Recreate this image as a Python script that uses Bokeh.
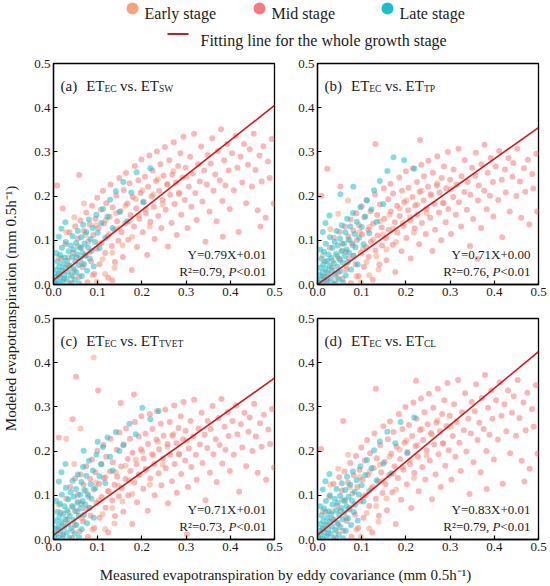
import math
from bokeh.plotting import figure
from bokeh.layouts import column, row
from bokeh.models import Range1d, FixedTicker, PrintfTickFormatter
from bokeh.core.properties import value
from bokeh.embed import file_html
from bokeh.resources import INLINE

# ---------------- data ----------------
stage_names = ["Early stage", "Mid stage", "Late stage"]
stage_colors = ["#F6A37B", "#F47B80", "#1BBFCB"]
fit_label = "Fitting line for the whole growth stage"
fit_color = "#D7161B"
x_title = "Measured evapotranspiration by eddy covariance (mm 0.5h\u207b\u00b9)"
y_title = "Modeled evapotranspiration (mm 0.5h\u207b\u00b9)"
panel_tags = ["(a)", "(b)", "(c)", "(d)"]
obs_sub = "EC"
model_subs = ["SW", "TP", "TVET", "CL"]
slopes = [0.79, 0.71, 0.71, 0.83]
intercepts = [0.01, 0.00, 0.01, 0.01]
r2_values = [0.79, 0.76, 0.73, 0.79]
p_limit = "<0.01"
axis_ticks = [0.0, 0.1, 0.2, 0.3, 0.4, 0.5]

# (x, y) points, per growth stage
early_a = [(0.021,0.032),(0.034,0.061),(0.043,0.018),(0.056,0.087),(0.065,0.047),(0.073,0.112),(0.081,0.073),(0.088,0.021),
           (0.096,0.134),(0.103,0.091),(0.111,0.057),(0.118,0.146),(0.126,0.114),(0.133,0.072),(0.141,0.161),(0.148,0.127),
           (0.156,0.089),(0.163,0.178),(0.171,0.142),(0.178,0.108),(0.186,0.193),(0.193,0.156),(0.201,0.213),(0.209,0.171),
           (0.218,0.132),(0.226,0.204),(0.236,0.238),(0.247,0.181),(0.258,0.226),(0.271,0.257),(0.284,0.208),(0.302,0.243),
           (0.012,0.061),(0.029,0.118),(0.047,0.152),(0.069,0.183),(0.098,0.006),(0.117,0.024),(0.138,0.038)]
mid_a = [(0.012,0.021),(0.018,0.058),(0.024,0.012),(0.027,0.091),(0.033,0.043),(0.036,0.118),(0.041,0.004),(0.044,0.072),(0.047,0.031),(0.049,0.132),
         (0.052,0.061),(0.055,0.104),(0.058,0.017),(0.061,0.145),(0.063,0.083),(0.066,0.039),(0.069,0.121),(0.072,0.067),(0.074,0.163),(0.077,0.005),
         (0.079,0.098),(0.082,0.136),(0.085,0.052),(0.087,0.178),(0.09,0.112),(0.092,0.024),(0.095,0.149),(0.097,0.081),(0.099,0.196),
         (0.102,0.127),(0.104,0.046),(0.107,0.169),(0.109,0.094),(0.112,0.212),(0.114,0.138),(0.117,0.071),(0.119,0.184),(0.122,0.109),(0.124,0.015),
         (0.127,0.153),(0.129,0.226),(0.132,0.087),(0.134,0.174),(0.137,0.124),(0.139,0.051),(0.142,0.201),(0.144,0.143),(0.147,0.099),(0.149,0.241),
         (0.152,0.166),(0.154,0.118),(0.157,0.062),(0.159,0.214),(0.162,0.138),(0.164,0.252),(0.167,0.183),(0.169,0.101),(0.172,0.229),(0.174,0.157),
         (0.177,0.033),(0.179,0.198),(0.182,0.131),(0.184,0.268),(0.187,0.172),(0.189,0.085),(0.192,0.236),(0.194,0.149),(0.197,0.207),(0.199,0.283),
         (0.202,0.118),(0.204,0.187),(0.207,0.244),(0.209,0.161),(0.212,0.067),(0.214,0.221),(0.217,0.292),(0.219,0.142),(0.222,0.199),(0.224,0.258),
         (0.227,0.176),(0.229,0.103),(0.232,0.234),(0.234,0.301),(0.237,0.155),(0.239,0.212),(0.242,0.272),(0.244,0.128),(0.247,0.191),(0.249,0.246),
         (0.252,0.311),(0.254,0.169),(0.257,0.227),(0.259,0.086),(0.262,0.281),(0.264,0.203),(0.267,0.139),(0.269,0.249),(0.272,0.322),(0.274,0.182),
         (0.277,0.231),(0.279,0.112),(0.282,0.268),(0.284,0.205),(0.287,0.297),(0.289,0.158),(0.292,0.242),(0.294,0.334),(0.297,0.191),(0.299,0.264),
         (0.303,0.128),(0.306,0.221),(0.309,0.289),(0.312,0.176),(0.315,0.251),(0.318,0.341),(0.321,0.207),(0.324,0.146),(0.327,0.272),(0.331,0.233),
         (0.334,0.312),(0.337,0.188),(0.341,0.258),(0.344,0.097),(0.347,0.226),(0.349,0.293),
         (0.353,0.165),(0.356,0.274),(0.359,0.331),(0.362,0.212),(0.366,0.249),(0.369,0.143),(0.372,0.302),(0.376,0.236),(0.379,0.351),(0.382,0.189),
         (0.386,0.281),(0.389,0.224),(0.393,0.318),(0.396,0.258),(0.399,0.171),
         (0.404,0.297),(0.408,0.213),(0.412,0.336),(0.416,0.264),(0.419,0.119),(0.423,0.289),(0.427,0.231),(0.431,0.318),(0.436,0.184),(0.44,0.271),
         (0.444,0.306),(0.449,0.222),(0.453,0.341),(0.457,0.259),(0.462,0.168),(0.466,0.292),(0.471,0.233),(0.475,0.313),(0.48,0.151),(0.485,0.278),
         (0.489,0.241),(0.494,0.329),(0.498,0.183),
         (0.008,0.224),(0.021,0.172),(0.058,0.248),(0.133,0.009),(0.383,0.108),(0.468,0.131)]
late_a = [(0.002,0.004),(0.004,0.018),(0.006,0.033),(0.007,0.009),(0.009,0.052),(0.011,0.024),(0.012,0.002),(0.013,0.041),(0.015,0.067),(0.016,0.015),
          (0.018,0.031),(0.019,0.083),(0.021,0.006),(0.022,0.047),(0.024,0.022),(0.025,0.061),(0.027,0.038),(0.028,0.096),(0.03,0.013),(0.031,0.054),
          (0.033,0.029),(0.034,0.075),(0.036,0.002),(0.037,0.043),(0.039,0.088),(0.04,0.021),(0.042,0.062),(0.043,0.109),(0.045,0.036),(0.046,0.079),
          (0.048,0.011),(0.049,0.052),(0.051,0.094),(0.052,0.027),(0.054,0.068),(0.055,0.121),(0.057,0.044),(0.058,0.003),(0.06,0.083),(0.061,0.058),
          (0.063,0.107),(0.064,0.019),(0.066,0.071),(0.067,0.135),(0.069,0.046),(0.07,0.092),(0.072,0.065),(0.074,0.118),(0.076,0.031),(0.078,0.084),
          (0.08,0.147),(0.082,0.059),(0.084,0.103),(0.086,0.076),(0.089,0.128),(0.091,0.041),(0.094,0.096),(0.097,0.158),(0.1,0.117),(0.104,0.082),
          (0.108,0.139),(0.112,0.171),(0.117,0.105),(0.122,0.153),(0.128,0.192),(0.134,0.128),(0.141,0.211),(0.149,0.164),(0.158,0.232),(0.167,0.143),
          (0.176,0.208),(0.188,0.254),(0.203,0.186),(0.219,0.263),(0.012,0.108),(0.018,0.126),(0.006,0.071),(0.027,0.141)]

early_b = [(0.021,0.028),(0.034,0.054),(0.043,0.016),(0.056,0.077),(0.065,0.042),(0.073,0.1),(0.081,0.065),(0.088,0.018),
           (0.096,0.119),(0.103,0.081),(0.111,0.051),(0.118,0.13),(0.126,0.101),(0.133,0.064),(0.141,0.143),(0.148,0.113),
           (0.156,0.079),(0.163,0.158),(0.171,0.126),(0.178,0.096),(0.186,0.172),(0.193,0.139),(0.201,0.19),(0.209,0.152),
           (0.218,0.117),(0.226,0.181),(0.236,0.212),(0.247,0.161),(0.258,0.201),(0.271,0.229),(0.284,0.185),(0.302,0.216),
           (0.012,0.066),(0.029,0.125),(0.047,0.16),(0.069,0.19),(0.098,0.005),(0.117,0.021),(0.138,0.034)]
mid_b = [(0.013,0.018),(0.017,0.052),(0.023,0.009),(0.028,0.083),(0.032,0.038),(0.037,0.106),(0.04,0.002),(0.045,0.064),(0.046,0.027),(0.05,0.119),
         (0.051,0.055),(0.056,0.093),(0.057,0.013),(0.062,0.131),(0.064,0.074),(0.065,0.034),(0.07,0.109),(0.071,0.059),(0.075,0.147),(0.076,0.003),
         (0.08,0.088),(0.081,0.122),(0.086,0.046),(0.088,0.161),(0.089,0.1),(0.093,0.019),(0.094,0.134),(0.098,0.072),(0.1,0.177),
         (0.101,0.113),(0.105,0.04),(0.106,0.152),(0.11,0.084),(0.111,0.191),(0.115,0.124),(0.116,0.063),(0.12,0.166),(0.121,0.097),(0.125,0.011),
         (0.126,0.138),(0.13,0.204),(0.131,0.077),(0.135,0.157),(0.136,0.111),(0.14,0.045),(0.141,0.181),(0.145,0.129),(0.146,0.088),(0.15,0.218),
         (0.151,0.149),(0.155,0.105),(0.156,0.055),(0.16,0.193),(0.161,0.124),(0.165,0.228),(0.166,0.165),(0.17,0.09),(0.171,0.206),(0.175,0.141),
         (0.176,0.028),(0.18,0.178),(0.181,0.117),(0.185,0.242),(0.186,0.155),(0.19,0.075),(0.191,0.212),(0.195,0.133),(0.196,0.186),(0.2,0.256),
         (0.201,0.105),(0.205,0.168),(0.206,0.219),(0.21,0.145),(0.211,0.059),(0.215,0.198),(0.216,0.263),(0.22,0.127),(0.221,0.179),(0.225,0.232),
         (0.226,0.158),(0.23,0.091),(0.231,0.21),(0.235,0.271),(0.236,0.139),(0.24,0.19),(0.241,0.245),(0.245,0.114),(0.246,0.171),(0.25,0.221),
         (0.251,0.28),(0.255,0.151),(0.256,0.204),(0.26,0.076),(0.261,0.253),(0.265,0.182),(0.266,0.124),(0.27,0.224),(0.271,0.29),(0.275,0.163),
         (0.276,0.208),(0.28,0.1),(0.281,0.241),(0.285,0.184),(0.286,0.267),(0.29,0.141),(0.291,0.218),(0.295,0.3),(0.296,0.171),(0.3,0.237),
         (0.302,0.114),(0.307,0.198),(0.308,0.26),(0.313,0.158),(0.314,0.226),(0.319,0.307),(0.32,0.186),(0.325,0.131),(0.326,0.245),(0.332,0.209),
         (0.333,0.281),(0.338,0.169),(0.34,0.232),(0.345,0.087),(0.346,0.203),(0.35,0.264),
         (0.352,0.148),(0.357,0.246),(0.358,0.298),(0.363,0.19),(0.365,0.224),(0.37,0.128),(0.371,0.272),(0.377,0.212),(0.378,0.316),(0.383,0.17),
         (0.385,0.253),(0.39,0.201),(0.392,0.286),(0.397,0.232),(0.398,0.154),
         (0.403,0.267),(0.409,0.191),(0.411,0.302),(0.417,0.237),(0.418,0.107),(0.424,0.26),(0.426,0.208),(0.432,0.286),(0.435,0.165),(0.441,0.244),
         (0.443,0.275),(0.45,0.2),(0.452,0.307),(0.458,0.233),(0.461,0.151),(0.467,0.263),(0.47,0.21),(0.476,0.282),(0.479,0.136),(0.486,0.25),
         (0.488,0.217),(0.495,0.296),(0.497,0.165),
         (0.009,0.201),(0.022,0.262),(0.052,0.222),(0.131,0.318),(0.232,0.327),(0.362,0.058)]
late_b = [(0.002,0.005),(0.004,0.021),(0.006,0.038),(0.007,0.011),(0.009,0.058),(0.011,0.027),(0.012,0.003),(0.013,0.046),(0.015,0.074),(0.016,0.017),
          (0.018,0.035),(0.019,0.092),(0.021,0.007),(0.022,0.053),(0.024,0.025),(0.025,0.068),(0.027,0.042),(0.028,0.107),(0.03,0.014),(0.031,0.06),
          (0.033,0.032),(0.034,0.083),(0.036,0.003),(0.037,0.048),(0.039,0.097),(0.04,0.023),(0.042,0.069),(0.043,0.121),(0.045,0.04),(0.046,0.088),
          (0.048,0.012),(0.049,0.058),(0.051,0.104),(0.052,0.03),(0.054,0.075),(0.055,0.134),(0.057,0.049),(0.058,0.004),(0.06,0.092),(0.061,0.064),
          (0.063,0.118),(0.064,0.021),(0.066,0.079),(0.067,0.149),(0.069,0.051),(0.07,0.102),(0.072,0.072),(0.074,0.131),(0.076,0.034),(0.078,0.093),
          (0.08,0.162),(0.082,0.065),(0.084,0.114),(0.086,0.084),(0.089,0.142),(0.091,0.045),(0.094,0.106),(0.097,0.175),(0.1,0.13),(0.104,0.091),
          (0.108,0.154),(0.112,0.19),(0.117,0.116),(0.122,0.17),(0.128,0.213),(0.134,0.142),(0.141,0.234),(0.149,0.182),(0.158,0.257),(0.172,0.288),
          (0.196,0.281),(0.219,0.262),(0.052,0.204),(0.081,0.221),(0.012,0.119),(0.018,0.139),(0.006,0.079),(0.027,0.156)]

early_c = [(0.021,0.034),(0.034,0.061),(0.043,0.019),(0.056,0.086),(0.065,0.048),(0.073,0.11),(0.081,0.072),(0.088,0.022),
           (0.096,0.129),(0.103,0.089),(0.111,0.057),(0.118,0.141),(0.126,0.109),(0.133,0.071),(0.141,0.152),(0.148,0.121),
           (0.156,0.086),(0.163,0.167),(0.171,0.134),(0.178,0.103),(0.186,0.181),(0.193,0.147),(0.201,0.199),(0.209,0.16),
           (0.218,0.124),(0.226,0.19),(0.236,0.221),(0.247,0.169),(0.258,0.21),(0.271,0.238),(0.284,0.193),(0.302,0.224),
           (0.012,0.078),(0.029,0.228),(0.047,0.171),(0.061,0.251),(0.091,0.412),(0.117,0.023),(0.138,0.036)]
mid_c = [(0.011,0.024),(0.016,0.061),(0.022,0.011),(0.029,0.092),(0.031,0.045),(0.038,0.119),(0.042,0.003),(0.044,0.073),(0.048,0.033),(0.049,0.138),
         (0.053,0.064),(0.055,0.101),(0.059,0.018),(0.061,0.147),(0.063,0.081),(0.067,0.041),(0.068,0.124),(0.073,0.069),(0.074,0.166),(0.078,0.006),
         (0.079,0.097),(0.083,0.137),(0.084,0.054),(0.087,0.181),(0.091,0.113),(0.092,0.026),(0.095,0.152),(0.097,0.083),(0.099,0.201),
         (0.103,0.126),(0.104,0.049),(0.108,0.171),(0.109,0.096),(0.113,0.214),(0.114,0.139),(0.118,0.072),(0.119,0.187),(0.123,0.109),(0.124,0.016),
         (0.128,0.154),(0.129,0.228),(0.133,0.088),(0.134,0.175),(0.138,0.124),(0.139,0.053),(0.143,0.203),(0.144,0.142),(0.148,0.098),(0.149,0.242),
         (0.153,0.165),(0.154,0.116),(0.158,0.063),(0.159,0.215),(0.163,0.137),(0.164,0.251),(0.168,0.182),(0.169,0.1),(0.173,0.228),(0.174,0.155),
         (0.178,0.035),(0.179,0.196),(0.183,0.129),(0.184,0.266),(0.188,0.17),(0.189,0.084),(0.193,0.233),(0.194,0.146),(0.198,0.204),(0.199,0.279),
         (0.203,0.115),(0.204,0.183),(0.208,0.239),(0.209,0.157),(0.213,0.065),(0.214,0.216),(0.218,0.284),(0.219,0.138),(0.223,0.193),(0.224,0.25),
         (0.228,0.171),(0.229,0.1),(0.233,0.226),(0.234,0.29),(0.238,0.15),(0.239,0.204),(0.243,0.262),(0.244,0.123),(0.248,0.183),(0.249,0.235),
         (0.253,0.294),(0.254,0.161),(0.258,0.216),(0.259,0.082),(0.263,0.266),(0.264,0.192),(0.268,0.132),(0.269,0.235),(0.273,0.303),(0.274,0.171),
         (0.278,0.218),(0.279,0.106),(0.283,0.252),(0.284,0.193),(0.288,0.279),(0.289,0.148),(0.293,0.227),(0.294,0.311),(0.298,0.179),(0.299,0.246),
         (0.304,0.119),(0.306,0.206),(0.31,0.268),(0.312,0.164),(0.316,0.233),(0.318,0.316),(0.322,0.192),(0.324,0.135),(0.328,0.251),(0.331,0.215),
         (0.335,0.287),(0.337,0.173),(0.342,0.237),(0.344,0.089),(0.348,0.207),(0.349,0.268),
         (0.354,0.151),(0.356,0.25),(0.36,0.302),(0.362,0.193),(0.367,0.227),(0.369,0.13),(0.373,0.275),(0.376,0.214),(0.38,0.318),(0.382,0.172),
         (0.387,0.255),(0.389,0.203),(0.394,0.288),(0.396,0.234),(0.399,0.155),
         (0.405,0.268),(0.408,0.192),(0.413,0.303),(0.416,0.238),(0.42,0.108),(0.424,0.261),(0.427,0.208),(0.432,0.287),(0.436,0.166),(0.441,0.244),
         (0.444,0.276),(0.45,0.2),(0.454,0.307),(0.458,0.233),(0.462,0.151),(0.467,0.263),(0.471,0.21),(0.476,0.282),(0.481,0.135),(0.486,0.249),
         (0.49,0.216),(0.494,0.295),(0.499,0.163),
         (0.051,0.368),(0.101,0.337),(0.182,0.328),(0.043,0.272),(0.152,0.309),(0.012,0.231),(0.302,0.012)]
late_c = [(0.002,0.006),(0.004,0.024),(0.006,0.042),(0.007,0.013),(0.009,0.063),(0.011,0.03),(0.012,0.004),(0.013,0.051),(0.015,0.081),(0.016,0.019),
          (0.018,0.039),(0.019,0.101),(0.021,0.008),(0.022,0.058),(0.024,0.028),(0.025,0.075),(0.027,0.046),(0.028,0.117),(0.03,0.016),(0.031,0.066),
          (0.033,0.035),(0.034,0.091),(0.036,0.004),(0.037,0.053),(0.039,0.107),(0.04,0.025),(0.042,0.076),(0.043,0.133),(0.045,0.044),(0.046,0.097),
          (0.048,0.013),(0.049,0.064),(0.051,0.114),(0.052,0.033),(0.054,0.083),(0.055,0.147),(0.057,0.054),(0.058,0.005),(0.06,0.101),(0.061,0.07),
          (0.063,0.13),(0.064,0.023),(0.066,0.087),(0.067,0.164),(0.069,0.056),(0.07,0.112),(0.072,0.079),(0.074,0.144),(0.076,0.037),(0.078,0.102),
          (0.08,0.178),(0.082,0.071),(0.084,0.125),(0.086,0.092),(0.089,0.156),(0.091,0.049),(0.094,0.116),(0.097,0.192),(0.1,0.221),(0.104,0.143),
          (0.108,0.17),(0.112,0.209),(0.117,0.128),(0.122,0.231),(0.128,0.187),(0.134,0.156),(0.141,0.243),(0.149,0.2),(0.158,0.213),(0.172,0.262),
          (0.186,0.238),(0.201,0.298),(0.219,0.272),(0.238,0.291),(0.068,0.201),(0.012,0.131),(0.018,0.152),(0.006,0.087),(0.027,0.171)]

early_d = [(0.021,0.034),(0.034,0.064),(0.043,0.019),(0.056,0.091),(0.065,0.049),(0.073,0.118),(0.081,0.077),(0.088,0.022),
           (0.096,0.141),(0.103,0.096),(0.111,0.06),(0.118,0.153),(0.126,0.12),(0.133,0.076),(0.141,0.169),(0.148,0.133),
           (0.156,0.093),(0.163,0.187),(0.171,0.149),(0.178,0.113),(0.186,0.203),(0.193,0.164),(0.201,0.224),(0.209,0.18),
           (0.218,0.139),(0.226,0.214),(0.236,0.25),(0.247,0.19),(0.258,0.237),(0.271,0.27),(0.284,0.218),(0.302,0.255),
           (0.012,0.064),(0.029,0.124),(0.047,0.16),(0.069,0.192),(0.098,0.006),(0.117,0.025),(0.138,0.04)]
mid_d = [(0.012,0.023),(0.018,0.062),(0.024,0.013),(0.027,0.097),(0.033,0.046),(0.036,0.126),(0.041,0.005),(0.044,0.077),(0.047,0.034),(0.049,0.141),
         (0.052,0.065),(0.055,0.111),(0.058,0.019),(0.061,0.154),(0.063,0.088),(0.066,0.042),(0.069,0.129),(0.072,0.071),(0.074,0.173),(0.077,0.006),
         (0.079,0.104),(0.082,0.145),(0.085,0.056),(0.087,0.189),(0.09,0.119),(0.092,0.026),(0.095,0.158),(0.097,0.086),(0.099,0.208),
         (0.102,0.135),(0.104,0.049),(0.107,0.179),(0.109,0.1),(0.112,0.225),(0.114,0.146),(0.117,0.076),(0.119,0.195),(0.122,0.116),(0.124,0.016),
         (0.127,0.162),(0.129,0.24),(0.132,0.092),(0.134,0.184),(0.137,0.131),(0.139,0.054),(0.142,0.213),(0.144,0.152),(0.147,0.105),(0.149,0.256),
         (0.152,0.176),(0.154,0.125),(0.157,0.066),(0.159,0.227),(0.162,0.146),(0.164,0.267),(0.167,0.194),(0.169,0.107),(0.172,0.243),(0.174,0.166),
         (0.177,0.035),(0.179,0.21),(0.182,0.139),(0.184,0.284),(0.187,0.182),(0.189,0.09),(0.192,0.25),(0.194,0.158),(0.197,0.219),(0.199,0.3),
         (0.202,0.125),(0.204,0.198),(0.207,0.259),(0.209,0.171),(0.212,0.071),(0.214,0.234),(0.217,0.31),(0.219,0.151),(0.222,0.211),(0.224,0.273),
         (0.227,0.187),(0.229,0.109),(0.232,0.248),(0.234,0.319),(0.237,0.164),(0.239,0.225),(0.242,0.288),(0.244,0.136),(0.247,0.202),(0.249,0.261),
         (0.252,0.33),(0.254,0.179),(0.257,0.241),(0.259,0.091),(0.262,0.298),(0.264,0.215),(0.267,0.147),(0.269,0.264),(0.272,0.341),(0.274,0.193),
         (0.277,0.245),(0.279,0.119),(0.282,0.284),(0.284,0.217),(0.287,0.315),(0.289,0.167),(0.292,0.257),(0.294,0.354),(0.297,0.202),(0.299,0.28),
         (0.303,0.136),(0.306,0.234),(0.309,0.306),(0.312,0.187),(0.315,0.266),(0.318,0.361),(0.321,0.219),(0.324,0.155),(0.327,0.288),(0.331,0.247),
         (0.334,0.331),(0.337,0.199),(0.341,0.273),(0.344,0.103),(0.347,0.24),(0.349,0.311),
         (0.353,0.175),(0.356,0.29),(0.359,0.351),(0.362,0.225),(0.366,0.264),(0.369,0.152),(0.372,0.32),(0.376,0.25),(0.379,0.372),(0.382,0.2),
         (0.386,0.298),(0.389,0.237),(0.393,0.337),(0.396,0.273),(0.399,0.181),
         (0.404,0.315),(0.408,0.226),(0.412,0.356),(0.416,0.28),(0.419,0.126),(0.423,0.306),(0.427,0.245),(0.431,0.337),(0.436,0.195),(0.44,0.287),
         (0.444,0.324),(0.449,0.235),(0.453,0.361),(0.457,0.275),(0.462,0.178),(0.466,0.31),(0.471,0.247),(0.475,0.332),(0.48,0.16),(0.485,0.295),
         (0.489,0.255),(0.494,0.349),(0.498,0.194),
         (0.008,0.205),(0.132,0.341),(0.058,0.268),(0.223,0.359),(0.383,0.114),(0.468,0.131)]
late_d = [(0.002,0.004),(0.004,0.019),(0.006,0.035),(0.007,0.01),(0.009,0.055),(0.011,0.025),(0.012,0.002),(0.013,0.043),(0.015,0.07),(0.016,0.016),
          (0.018,0.033),(0.019,0.087),(0.021,0.006),(0.022,0.049),(0.024,0.023),(0.025,0.064),(0.027,0.04),(0.028,0.1),(0.03,0.013),(0.031,0.057),
          (0.033,0.03),(0.034,0.079),(0.036,0.002),(0.037,0.045),(0.039,0.092),(0.04,0.022),(0.042,0.065),(0.043,0.114),(0.045,0.038),(0.046,0.083),
          (0.048,0.011),(0.049,0.055),(0.051,0.099),(0.052,0.028),(0.054,0.071),(0.055,0.127),(0.057,0.046),(0.058,0.003),(0.06,0.087),(0.061,0.061),
          (0.063,0.112),(0.064,0.02),(0.066,0.075),(0.067,0.142),(0.069,0.048),(0.07,0.097),(0.072,0.068),(0.074,0.124),(0.076,0.033),(0.078,0.088),
          (0.08,0.154),(0.082,0.062),(0.084,0.108),(0.086,0.08),(0.089,0.134),(0.091,0.043),(0.094,0.101),(0.097,0.166),(0.1,0.123),(0.104,0.086),
          (0.108,0.146),(0.112,0.18),(0.117,0.11),(0.122,0.161),(0.128,0.202),(0.134,0.134),(0.141,0.222),(0.149,0.172),(0.158,0.244),(0.167,0.15),
          (0.176,0.218),(0.188,0.266),(0.203,0.195),(0.219,0.276),(0.012,0.113),(0.018,0.132),(0.006,0.075),(0.027,0.148)]

panel_points = [(early_a, mid_a, late_a), (early_b, mid_b, late_b),
                (early_c, mid_c, late_c), (early_d, mid_d, late_d)]

# ---------------- styling helpers ----------------
SERIF = "Liberation Serif"
TXT = "#1a1a1a"
CW = {'(': .333, ')': .333, 'a': .444, 'b': .5, 'c': .444, 'd': .5, 'E': .611, 'T': .611, 'C': .667,
      'S': .556, 'W': .944, 'P': .556, 'V': .722, 'L': .611, ' ': .25, 'v': .5, 's': .389, '.': .25,
      'R': .667, '\u00b2': .3, '=': .564, ',': .25, '<': .564, 'Y': .722, 'X': .722, '+': .564}


def tw(s, size):
    return sum(CW.get(c, 0.5) for c in s) * size


FRAME = 221
K = 0.5 / FRAME


def put_text(p, px, py, txt, size, align="left", italic=False):
    # px from frame left, py from frame top, in pixels
    p.text(x=[px * K], y=[0.5 - py * K], text=[txt], text_font=value(SERIF),
           text_font_size=value(f"{size}px"), text_align=align, text_baseline="alphabetic",
           text_color=TXT, text_font_style="italic" if italic else "normal")


def make_panel(i, bl, br, bt, bb):
    p = figure(frame_width=FRAME, frame_height=FRAME, x_range=Range1d(0, 0.5), y_range=Range1d(0, 0.5),
               output_backend="svg", toolbar_location=None, min_border_left=bl, min_border_right=br,
               min_border_top=bt, min_border_bottom=bb)
    p.grid.visible = False
    p.outline_line_color = "black"
    p.outline_line_width = 1.3
    for ax in (p.xaxis[0], p.yaxis[0]):
        ax.ticker = FixedTicker(ticks=axis_ticks)
        ax.formatter = PrintfTickFormatter(format="%.1f")
        ax.major_tick_in = 4
        ax.major_tick_out = 0
        ax.minor_tick_line_color = None
        ax.major_label_standoff = 3
        ax.major_label_text_font = SERIF
        ax.major_label_text_font_size = "13px"
        ax.major_label_text_color = TXT
        ax.axis_line_color = "black"
        ax.axis_line_width = 1.3
        ax.major_tick_line_width = 1.2

    for pts, col in zip(panel_points[i], stage_colors):
        xs = [q[0] for q in pts]
        ys = [q[1] for q in pts]
        p.scatter(xs, ys, size=6, fill_color=col, fill_alpha=0.55, line_color=None)

    fx = [axis_ticks[0], axis_ticks[-1]]
    fy = [slopes[i] * v + intercepts[i] for v in fx]
    p.line(fx, fy, line_color=fit_color, line_width=1.6)

    # panel title  (x) ET_EC vs. ET_model
    main, sub = 15, 9.5
    base = 22
    x = 7
    put_text(p, x, base, panel_tags[i], main)
    x += tw(panel_tags[i], main) + 9
    put_text(p, x, base, "ET", main)
    x += tw("ET", main)
    put_text(p, x, base + 3.5, obs_sub, sub)
    x += tw(obs_sub, sub) + 3.5
    put_text(p, x, base, "vs.", main)
    x += tw("vs.", main) + 3.5
    put_text(p, x, base, "ET", main)
    x += tw("ET", main)
    put_text(p, x, base + 3.5, model_subs[i], sub)

    # equation and statistics
    fs = 13
    right = FRAME - 8
    eq = f"Y={slopes[i]:.2f}X+{intercepts[i]:.2f}"
    put_text(p, right, FRAME - 30, eq, fs, align="right")
    part1 = f"R\u00b2={r2_values[i]:.2f},"
    w1 = tw(part1, fs) + 0.25 * fs
    wp = 0.611 * fs
    w3 = tw(p_limit, fs)
    x0 = right - (w1 + wp + w3)
    put_text(p, x0, FRAME - 13, part1, fs)
    put_text(p, x0 + w1, FRAME - 13, "P", fs, italic=True)
    put_text(p, x0 + w1 + wp, FRAME - 13, p_limit, fs)
    return p


def blank(w, h):
    p = figure(width=w, height=h, x_range=Range1d(0, w), y_range=Range1d(0, h), output_backend="svg",
               toolbar_location=None, x_axis_type=None, y_axis_type=None, min_border=0,
               title_location=None)
    p.grid.visible = False
    p.outline_line_color = None
    return p


# ---------------- legend strip ----------------
TOP_H = 55
leg = blank(549, TOP_H)
circ_x = [132, 259, 387]
leg.scatter(circ_x, [TOP_H - 8] * 3, size=12, fill_color=stage_colors, line_color=None)
leg.text(x=[c + 12 for c in circ_x], y=[TOP_H - 12.5] * 3, text=stage_names, text_font=value(SERIF),
         text_font_size=value("16px"), text_baseline="alphabetic", text_color=TXT)
leg.line([167, 188], [TOP_H - 33.5, TOP_H - 33.5], line_color=fit_color, line_width=2.2)
leg.text(x=[200], y=[TOP_H - 39.5], text=[fit_label], text_font=value(SERIF),
         text_font_size=value("16px"), text_baseline="alphabetic", text_color=TXT)

# ---------------- panels ----------------
pa = make_panel(0, 31, 20, 8, 26)
pb = make_panel(1, 23, 11, 8, 26)
pc = make_panel(2, 31, 20, 8, 19)
pd = make_panel(3, 23, 11, 8, 19)

# ---------------- axis titles ----------------
YT_H = 255 + 248
yt = blank(22, YT_H)
yt.text(x=[10], y=[YT_H - (308 - TOP_H)], text=[y_title], angle=math.pi / 2, text_font=value(SERIF),
        text_font_size=value("15px"), text_align="center", text_baseline="middle", text_color=TXT)

XT_H = 27
xt = blank(549, XT_H)
xt.text(x=[285], y=[11], text=[x_title], text_font=value(SERIF), text_font_size=value("15px"),
        text_align="center", text_baseline="alphabetic", text_color=TXT)

layout = column(leg, row(yt, column(row(pa, pb), row(pc, pd))), xt)

open("out.html", "w").write(file_html(layout, INLINE))
